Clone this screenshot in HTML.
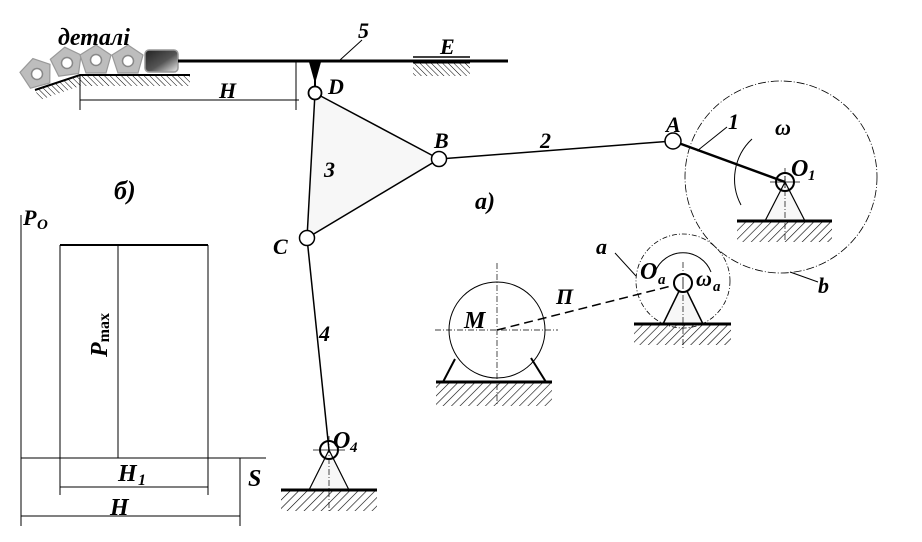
<!DOCTYPE html>
<html><head><meta charset="utf-8"><style>
html,body{margin:0;padding:0;background:#fff;}
svg{display:block;}
text{font-family:"Liberation Serif",serif;font-weight:bold;font-style:italic;fill:#000;}
</style></head><body>
<svg width="922" height="542" viewBox="0 0 922 542" xmlns="http://www.w3.org/2000/svg">
<defs>
<pattern id="h" patternUnits="userSpaceOnUse" width="6" height="6" patternTransform="rotate(45)">
<line x1="0" y1="0" x2="0" y2="6" stroke="#000" stroke-width="1.2"/>
</pattern>
<pattern id="h2" patternUnits="userSpaceOnUse" width="4" height="4" patternTransform="rotate(-45)">
<line x1="0" y1="0" x2="0" y2="4" stroke="#000" stroke-width="1"/>
</pattern>
<linearGradient id="g" x1="0" y1="0" x2="1" y2="1">
<stop offset="0" stop-color="#222"/><stop offset="0.55" stop-color="#555"/><stop offset="1" stop-color="#eee"/>
</linearGradient>
</defs>

<!-- top part: parts, bar 5 -->
<polygon points="35,90 80,75 190,75 190,86 80,86 40,100" fill="url(#h2)"/>
<polyline points="35,90 80,75 190,75" fill="none" stroke="#000" stroke-width="2"/>
<g fill="#bdbdbd" stroke="#999" stroke-width="1.2">
<polygon points="37,58 52,68 47,86 27,86 21,68" transform="rotate(-15 37 74)"/>
<polygon points="67,47 82,57 77,75 57,75 51,57" transform="rotate(-8 67 63)"/>
<polygon points="96,45 111,55 106,73 86,73 80,55"/>
<polygon points="128,45 143,55 138,73 118,73 112,55"/>
</g>
<g fill="#fff" stroke="#888" stroke-width="1.5">
<circle cx="37" cy="74" r="5.5"/><circle cx="67" cy="63" r="5.5"/><circle cx="96" cy="60" r="5.5"/><circle cx="128" cy="61" r="5.5"/>
</g>
<rect x="145" y="50" width="33" height="22" rx="4" fill="url(#g)" stroke="#999" stroke-width="1.5"/>
<line x1="178" y1="61" x2="508" y2="61" stroke="#000" stroke-width="3"/>
<text x="58" y="45" font-size="24">деталі</text>
<!-- H dim -->
<line x1="80" y1="75" x2="80" y2="110" stroke="#000"/>
<line x1="296" y1="62" x2="296" y2="110" stroke="#000"/>
<line x1="80" y1="100" x2="299" y2="100" stroke="#000"/>
<text x="219" y="98" font-size="22">H</text>
<!-- 5 -->
<line x1="340" y1="60" x2="362" y2="40" stroke="#000"/>
<text x="358" y="38" font-size="22">5</text>
<!-- E -->
<rect x="413" y="63" width="57" height="13" fill="url(#h2)"/>
<line x1="413" y1="57" x2="470" y2="57" stroke="#000" stroke-width="1.5"/>
<line x1="413" y1="63" x2="470" y2="63" stroke="#000" stroke-width="1"/>
<text x="440" y="54" font-size="22">E</text>
<!-- D wedge -->
<polygon points="309,62 321,62 316,80 314,80" fill="#000"/>
<line x1="315" y1="78" x2="315" y2="87" stroke="#000" stroke-width="2"/>

<!-- triangle 3 -->
<polygon points="315,93 439,159 307,238" fill="#f7f7f7" stroke="#000" stroke-width="1.5"/>
<line x1="439" y1="159" x2="673" y2="141" stroke="#000" stroke-width="1.5"/>
<line x1="307" y1="238" x2="329" y2="450" stroke="#000" stroke-width="1.5"/>
<line x1="673" y1="141" x2="785" y2="182" stroke="#000" stroke-width="2.5"/>
<circle cx="315" cy="93" r="6.5" fill="#fff" stroke="#000" stroke-width="1.8"/>
<circle cx="439" cy="159" r="7.5" fill="#fff" stroke="#000" stroke-width="1.5"/>
<circle cx="307" cy="238" r="7.5" fill="#fff" stroke="#000" stroke-width="1.5"/>
<circle cx="673" cy="141" r="8" fill="#fff" stroke="#000" stroke-width="1.5"/>
<text x="328" y="94" font-size="22">D</text>
<text x="434" y="148" font-size="22">B</text>
<text x="273" y="254" font-size="22">C</text>
<text x="666" y="132" font-size="22">A</text>
<text x="324" y="177" font-size="22">3</text>
<text x="540" y="148" font-size="22">2</text>
<text x="319" y="341" font-size="22">4</text>
<text x="475" y="209" font-size="24">a)</text>

<!-- crank circle b -->
<circle cx="781" cy="177" r="96" fill="none" stroke="#000" stroke-width="0.8" stroke-dasharray="8,2,1,2"/>
<path d="M 752,139 A 55 55 0 0 0 741,205" fill="none" stroke="#000" stroke-width="1"/>
<text x="775" y="135" font-size="22" font-style="normal">ω</text>
<line x1="697" y1="151" x2="727" y2="127" stroke="#000"/>
<text x="728" y="129" font-size="22">1</text>
<polygon points="785,182 765,221 805,221" fill="#f7f7f7" stroke="#000" stroke-width="1.2"/>
<rect x="737" y="222" width="95" height="20" fill="url(#h)"/>
<line x1="737" y1="221" x2="832" y2="221" stroke="#000" stroke-width="3"/>
<line x1="785" y1="168" x2="785" y2="240" stroke="#000" stroke-width="0.7" stroke-dasharray="6,2,1,2"/>
<line x1="770" y1="182" x2="800" y2="182" stroke="#000" stroke-width="0.7"/>
<circle cx="785" cy="182" r="9" fill="none" stroke="#000" stroke-width="2"/>
<line x1="785" y1="176" x2="785" y2="188" stroke="#000" stroke-width="0.8"/>
<text x="791" y="176" font-size="24">O</text><text x="808" y="180" font-size="15" font-style="normal">1</text>
<line x1="790" y1="272" x2="818" y2="282" stroke="#000"/>
<text x="818" y="293" font-size="22">b</text>

<!-- small circle a -->
<circle cx="683" cy="281" r="47" fill="none" stroke="#000" stroke-width="0.8" stroke-dasharray="5,2,1,2"/>
<path d="M 655,272 A 30 30 0 0 1 711,272" fill="none" stroke="#000" stroke-width="1"/>
<polygon points="683,283 663,324 703,324" fill="#f7f7f7" stroke="#000" stroke-width="1.5"/>
<rect x="634" y="325" width="97" height="20" fill="url(#h)"/>
<line x1="634" y1="324" x2="731" y2="324" stroke="#000" stroke-width="3"/>
<line x1="683" y1="262" x2="683" y2="350" stroke="#000" stroke-width="0.7" stroke-dasharray="6,2,1,2"/>
<line x1="497" y1="330" x2="683" y2="283" stroke="#000" stroke-width="1.5" stroke-dasharray="9,5"/>
<circle cx="683" cy="283" r="9" fill="#fff" stroke="#000" stroke-width="2"/>
<line x1="683" y1="277" x2="683" y2="289" stroke="#000" stroke-width="0.8"/>
<text x="640" y="279" font-size="24">O</text><text x="658" y="284" font-size="15">a</text>
<text x="696" y="286" font-size="22" font-style="normal">ω</text><text x="713" y="291" font-size="15">a</text>
<line x1="615" y1="253" x2="636" y2="276" stroke="#000"/>
<text x="596" y="254" font-size="22">a</text>
<text x="556" y="304" font-size="22">П</text>

<!-- motor -->
<circle cx="497" cy="330" r="48" fill="none" stroke="#000" stroke-width="1"/>
<line x1="497" y1="263" x2="497" y2="405" stroke="#000" stroke-width="0.7" stroke-dasharray="6,2,1,2"/>
<line x1="435" y1="330" x2="558" y2="330" stroke="#000" stroke-width="0.7" stroke-dasharray="6,2,1,2"/>
<line x1="455" y1="359" x2="443" y2="382" stroke="#000" stroke-width="2"/>
<line x1="531" y1="358" x2="546" y2="382" stroke="#000" stroke-width="2"/>
<rect x="436" y="383" width="116" height="23" fill="url(#h)"/>
<line x1="436" y1="382" x2="552" y2="382" stroke="#000" stroke-width="3"/>
<text x="464" y="328" font-size="24">M</text>

<!-- O4 -->
<polygon points="329,450 309,490 349,490" fill="#f7f7f7" stroke="#000" stroke-width="1.2"/>
<rect x="281" y="491" width="96" height="20" fill="url(#h)"/>
<line x1="281" y1="490" x2="377" y2="490" stroke="#000" stroke-width="3"/>
<line x1="329" y1="436" x2="329" y2="512" stroke="#000" stroke-width="0.7" stroke-dasharray="6,2,1,2"/>
<line x1="313" y1="450" x2="345" y2="450" stroke="#000" stroke-width="0.7"/>
<circle cx="329" cy="450" r="9" fill="none" stroke="#000" stroke-width="2"/>
<text x="333" y="448" font-size="24">O</text><text x="350" y="452" font-size="15" font-style="normal">4</text>

<!-- graph б) -->
<text x="114" y="199" font-size="26">б)</text>
<line x1="21" y1="215" x2="21" y2="526" stroke="#000"/>
<text x="23" y="225" font-size="22">P</text><text x="37" y="229" font-size="15" font-style="normal">O</text>
<line x1="21" y1="458" x2="266" y2="458" stroke="#000"/>
<line x1="60" y1="245" x2="208" y2="245" stroke="#000" stroke-width="2"/>
<line x1="60" y1="245" x2="60" y2="495" stroke="#000"/>
<line x1="208" y1="245" x2="208" y2="495" stroke="#000"/>
<line x1="118" y1="245" x2="118" y2="458" stroke="#000"/>
<text transform="translate(107,357) rotate(-90)" font-size="24">P<tspan font-size="16" font-style="normal" dy="2">max</tspan></text>
<line x1="60" y1="487" x2="208" y2="487" stroke="#000"/>
<text x="118" y="481" font-size="24">H</text><text x="138" y="485" font-size="16" font-style="normal">1</text>
<line x1="240" y1="458" x2="240" y2="526" stroke="#000"/>
<line x1="21" y1="516" x2="240" y2="516" stroke="#000"/>
<text x="110" y="515" font-size="24">H</text>
<text x="248" y="486" font-size="24">S</text>
</svg>
</body></html>
